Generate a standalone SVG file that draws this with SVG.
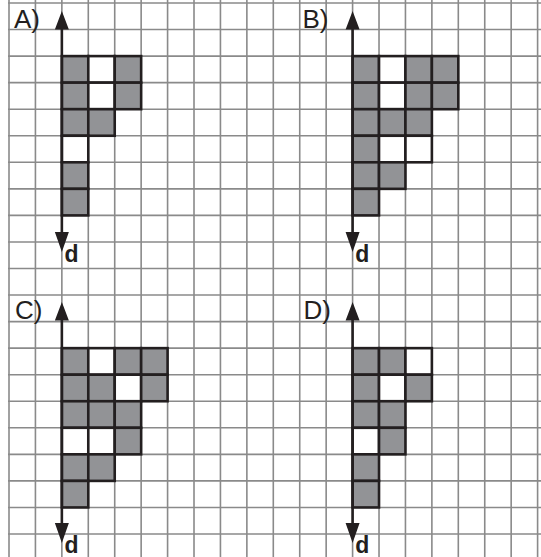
<svg xmlns="http://www.w3.org/2000/svg" width="541" height="557" viewBox="0 0 541 557">
<style>
.g{stroke:#8a8a8a;stroke-width:1.6;fill:none}
.c{stroke:#231f20;stroke-width:2.6;stroke-linejoin:miter}
.f{fill:#929396}
.w{fill:#ffffff}
.ax{stroke:#231f20;stroke-width:2.6;fill:none}
.ah{fill:#231f20}
.lbl{font-family:"Liberation Sans",Arial,sans-serif;font-size:26px;fill:#231f20}
.d{font-family:"Liberation Sans",Arial,sans-serif;font-size:23px;font-weight:bold;fill:#231f20}
</style>
<rect x="0" y="0" width="541" height="557" fill="#ffffff"/>
<g id="grid">
<path class="g" d="M9 0V557M35.43 0V557M61.86 0V557M88.29 0V557M114.72 0V557M141.15 0V557M167.58 0V557M194.01 0V557M220.44 0V557M246.87 0V557M273.3 0V557M299.73 0V557M326.16 0V557M352.59 0V557M379.02 0V557M405.45 0V557M431.88 0V557M458.31 0V557M484.74 0V557M511.17 0V557M537.6 0V557"/>
<path class="g" d="M8 3H541M8 29.55H541M8 56.1H541M8 82.65H541M8 109.2H541M8 135.75H541M8 162.3H541M8 188.85H541M8 215.4H541M8 241.95H541M8 268.5H541M8 295.05H541M8 321.6H541M8 348.15H541M8 374.7H541M8 401.25H541M8 427.8H541M8 454.35H541M8 480.9H541M8 507.45H541M8 534H541"/>
</g>
<g id="panelA">
<rect class="c f" x="61.86" y="56.1" width="26.43" height="26.55"/>
<rect class="c w" x="88.29" y="56.1" width="26.43" height="26.55"/>
<rect class="c f" x="114.72" y="56.1" width="26.43" height="26.55"/>
<rect class="c f" x="61.86" y="82.65" width="26.43" height="26.55"/>
<rect class="c w" x="88.29" y="82.65" width="26.43" height="26.55"/>
<rect class="c f" x="114.72" y="82.65" width="26.43" height="26.55"/>
<rect class="c f" x="61.86" y="109.2" width="26.43" height="26.55"/>
<rect class="c f" x="88.29" y="109.2" width="26.43" height="26.55"/>
<rect class="c w" x="61.86" y="135.75" width="26.43" height="26.55"/>
<rect class="c f" x="61.86" y="162.3" width="26.43" height="26.55"/>
<rect class="c f" x="61.86" y="188.85" width="26.43" height="26.55"/>
<text class="lbl" x="14" y="28.3">A)</text>
<text class="d" x="64.5" y="262">d</text>
</g>
<g id="panelB">
<rect class="c f" x="352.59" y="56.1" width="26.43" height="26.55"/>
<rect class="c w" x="379.02" y="56.1" width="26.43" height="26.55"/>
<rect class="c f" x="405.45" y="56.1" width="26.43" height="26.55"/>
<rect class="c f" x="431.88" y="56.1" width="26.43" height="26.55"/>
<rect class="c f" x="352.59" y="82.65" width="26.43" height="26.55"/>
<rect class="c w" x="379.02" y="82.65" width="26.43" height="26.55"/>
<rect class="c f" x="405.45" y="82.65" width="26.43" height="26.55"/>
<rect class="c f" x="431.88" y="82.65" width="26.43" height="26.55"/>
<rect class="c f" x="352.59" y="109.2" width="26.43" height="26.55"/>
<rect class="c f" x="379.02" y="109.2" width="26.43" height="26.55"/>
<rect class="c f" x="405.45" y="109.2" width="26.43" height="26.55"/>
<rect class="c f" x="352.59" y="135.75" width="26.43" height="26.55"/>
<rect class="c w" x="379.02" y="135.75" width="26.43" height="26.55"/>
<rect class="c w" x="405.45" y="135.75" width="26.43" height="26.55"/>
<rect class="c f" x="352.59" y="162.3" width="26.43" height="26.55"/>
<rect class="c f" x="379.02" y="162.3" width="26.43" height="26.55"/>
<rect class="c f" x="352.59" y="188.85" width="26.43" height="26.55"/>
<text class="lbl" x="302.5" y="28.3">B)</text>
<text class="d" x="355.2" y="262">d</text>
</g>
<g id="panelC">
<rect class="c f" x="61.86" y="348.15" width="26.43" height="26.55"/>
<rect class="c w" x="88.29" y="348.15" width="26.43" height="26.55"/>
<rect class="c f" x="114.72" y="348.15" width="26.43" height="26.55"/>
<rect class="c f" x="141.15" y="348.15" width="26.43" height="26.55"/>
<rect class="c f" x="61.86" y="374.7" width="26.43" height="26.55"/>
<rect class="c f" x="88.29" y="374.7" width="26.43" height="26.55"/>
<rect class="c w" x="114.72" y="374.7" width="26.43" height="26.55"/>
<rect class="c f" x="141.15" y="374.7" width="26.43" height="26.55"/>
<rect class="c f" x="61.86" y="401.25" width="26.43" height="26.55"/>
<rect class="c f" x="88.29" y="401.25" width="26.43" height="26.55"/>
<rect class="c f" x="114.72" y="401.25" width="26.43" height="26.55"/>
<rect class="c w" x="61.86" y="427.8" width="26.43" height="26.55"/>
<rect class="c w" x="88.29" y="427.8" width="26.43" height="26.55"/>
<rect class="c f" x="114.72" y="427.8" width="26.43" height="26.55"/>
<rect class="c f" x="61.86" y="454.35" width="26.43" height="26.55"/>
<rect class="c f" x="88.29" y="454.35" width="26.43" height="26.55"/>
<rect class="c f" x="61.86" y="480.9" width="26.43" height="26.55"/>
<text class="lbl" x="15" y="318.5">C)</text>
<text class="d" x="64.5" y="553">d</text>
</g>
<g id="panelD">
<rect class="c f" x="352.59" y="348.15" width="26.43" height="26.55"/>
<rect class="c f" x="379.02" y="348.15" width="26.43" height="26.55"/>
<rect class="c w" x="405.45" y="348.15" width="26.43" height="26.55"/>
<rect class="c f" x="352.59" y="374.7" width="26.43" height="26.55"/>
<rect class="c w" x="379.02" y="374.7" width="26.43" height="26.55"/>
<rect class="c f" x="405.45" y="374.7" width="26.43" height="26.55"/>
<rect class="c f" x="352.59" y="401.25" width="26.43" height="26.55"/>
<rect class="c f" x="379.02" y="401.25" width="26.43" height="26.55"/>
<rect class="c w" x="352.59" y="427.8" width="26.43" height="26.55"/>
<rect class="c f" x="379.02" y="427.8" width="26.43" height="26.55"/>
<rect class="c f" x="352.59" y="454.35" width="26.43" height="26.55"/>
<rect class="c f" x="352.59" y="480.9" width="26.43" height="26.55"/>
<text class="lbl" x="303.5" y="318.5">D)</text>
<text class="d" x="355.2" y="553">d</text>
</g>
<g id="connectors">
<path class="ax" d="M61.86 20V242M352.59 20V242M61.86 312V533M352.59 312V533"/>
<path class="ah" d="M61.86 11L54.86 29.5H68.86ZM61.86 252L54.86 232H68.86ZM352.59 11L345.59 29.5H359.59ZM352.59 252L345.59 232H359.59ZM61.86 302L54.86 320.5H68.86ZM61.86 543L54.86 523H68.86ZM352.59 302L345.59 320.5H359.59ZM352.59 543L345.59 523H359.59Z"/>
</g>
</svg>
